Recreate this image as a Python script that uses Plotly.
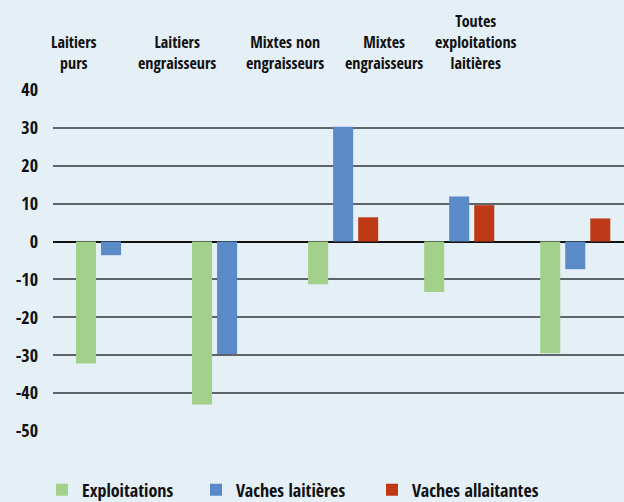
import plotly.graph_objects as go

categories = ["Laitiers purs", "Laitiers engraisseurs", "Mixtes non engraisseurs",
              "Mixtes engraisseurs", "Toutes exploitations laitières"]
cat_labels = ["Laitiers<br>purs", "Laitiers<br>engraisseurs", "Mixtes non<br>engraisseurs",
              "Mixtes<br>engraisseurs", "Toutes<br>exploitations<br>laitières"]
exploitations = [-32.2, -43.0, -11.3, -13.3, -29.5]
vaches_laitieres = [-3.6, -29.7, 30.3, 11.9, -7.3]
vaches_allaitantes = [None, None, 6.4, 9.6, 6.1]
y_ticks = [40, 30, 20, 10, 0, -10, -20, -30, -40, -50]

FONT = "Open Sans Condensed, Roboto, sans-serif"
BG = "#E4EFF6"

fig = go.Figure()
fig.add_trace(go.Bar(x=categories, y=exploitations, name="Exploitations", showlegend=True,
                     marker=dict(color="#A3D18C", line=dict(width=0)), legend="legend"))
fig.add_trace(go.Bar(x=categories, y=vaches_laitieres, name="Vaches laitières", showlegend=True,
                     marker=dict(color="#5A8AC8", line=dict(width=0)), legend="legend2"))
fig.add_trace(go.Bar(x=categories, y=vaches_allaitantes, name="Vaches allaitantes", showlegend=True,
                     marker=dict(color="#BE3A17", line=dict(width=0)), legend="legend3"))

# category header labels (above plot)
label_x_px = [74, 177, 285, 384, 476]
plot_left, plot_w = 53, 571
annotations = []
for lab, px in zip(cat_labels, label_x_px):
    annotations.append(dict(
        text=lab, x=(px - plot_left) / plot_w, xref="paper",
        y=1.0, yref="paper", yshift=14, yanchor="bottom", xanchor="center",
        showarrow=False, align="center",
        font=dict(family=FONT, size=16, color="#111111")))

legend_common = dict(orientation="h", xref="container", yref="container",
                     yanchor="middle", xanchor="left", y=12 / 502,
                     bgcolor="rgba(0,0,0,0)", visible=True,
                     font=dict(family=FONT, size=18, color="#111111"),
                     itemwidth=30)

fig.update_layout(
    width=624, height=502, showlegend=True,
    margin=dict(l=53, r=0, t=90, b=71, autoexpand=False),
    paper_bgcolor=BG, plot_bgcolor=BG,
    barmode="group", bargap=0.353, bargroupgap=0.2,
    annotations=annotations,
    legend=dict(x=42 / 624, **legend_common),
    legend2=dict(x=196 / 624, **legend_common),
    legend3=dict(x=372 / 624, **legend_common),
    xaxis=dict(range=[-0.5, 4.42], showticklabels=False, showgrid=False,
               zeroline=False, showline=False, ticks=""),
    yaxis=dict(range=[-50, 40], tickvals=y_ticks, ticktext=[str(v) for v in y_ticks],
               showgrid=True, gridcolor="#5E6468", gridwidth=1.5,
               zeroline=True, zerolinecolor="#111111", zerolinewidth=1.5,
               ticks="", ticklabelstandoff=14,
               tickfont=dict(family=FONT, size=18, color="#111111")),
)

fig.write_html("out.html",
               config={"displayModeBar": False},
               post_script="document.body.style.margin='0';"
                           "document.body.style.background='%s';" % BG)
